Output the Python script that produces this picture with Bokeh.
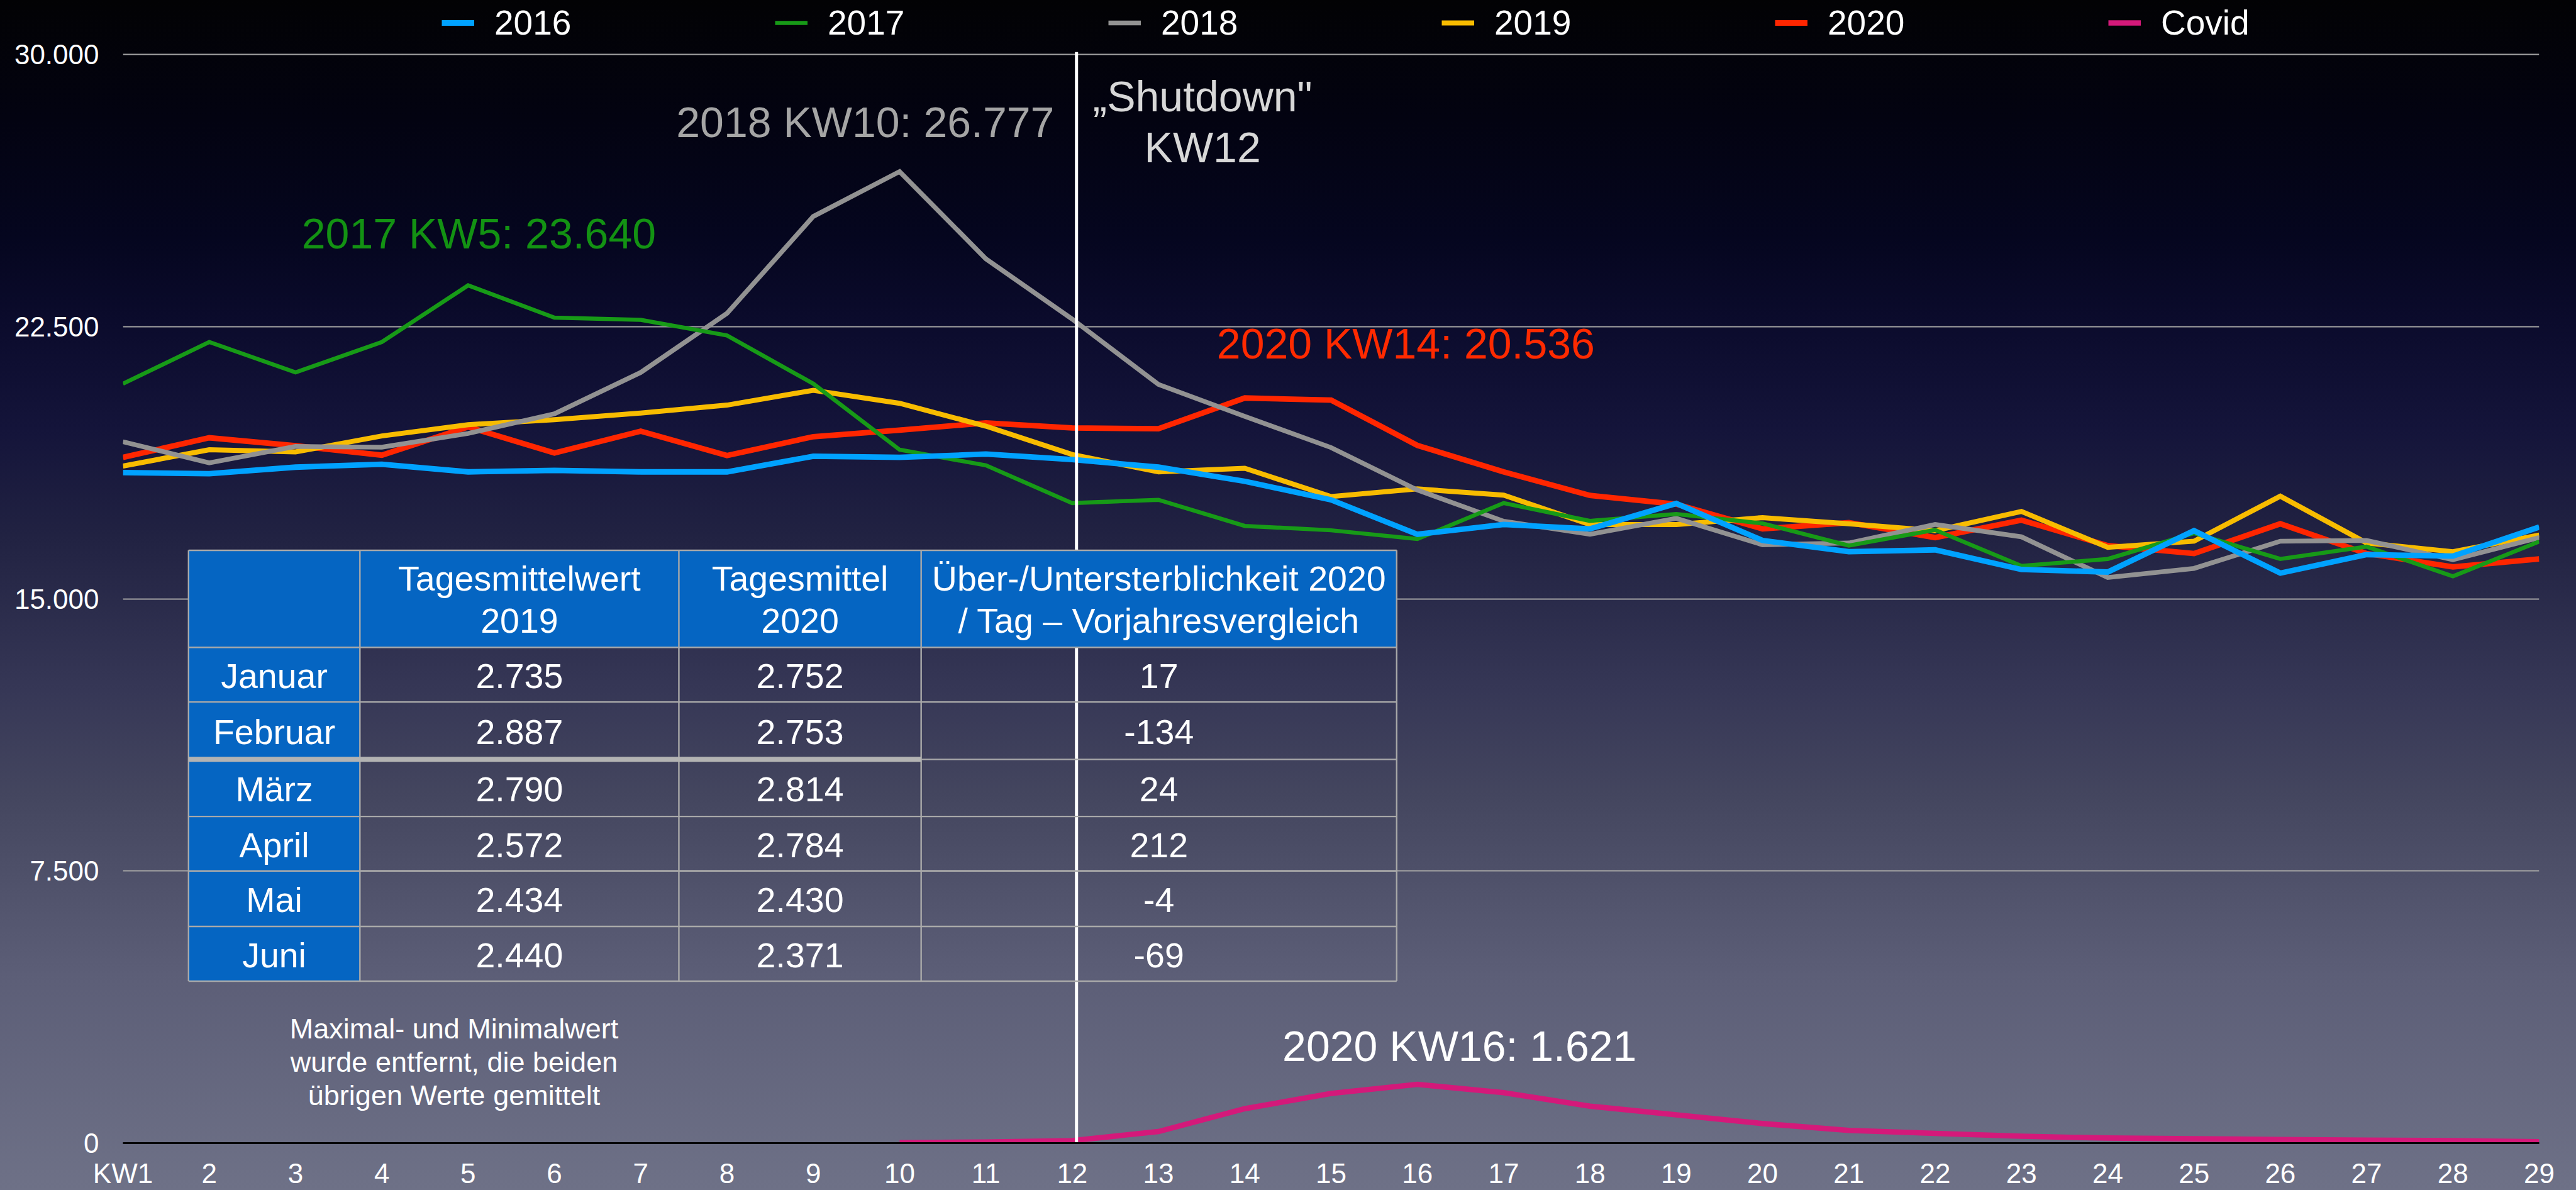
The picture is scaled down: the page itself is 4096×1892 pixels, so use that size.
from bokeh.plotting import figure
from bokeh.models import Range1d, Legend, LegendItem, GlobalInlineStyleSheet
from bokeh.core.properties import value
from bokeh.embed import file_html
from bokeh.resources import INLINE

# ---------------- data ----------------
weeks = list(range(1, 30))
deaths_2016 = [18480, 18450, 18630, 18710, 18500, 18540, 18500, 18500, 18930, 18900,
               18990, 18840, 18630, 18240, 17730, 16780, 17050, 16930, 17630, 16610,
               16300, 16350, 15810, 15740, 16880, 15710, 16220, 16180, 16980]
deaths_2017 = [20930, 22080, 21240, 22080, 23640, 22750, 22690, 22260, 20930, 19110,
               18680, 17640, 17730, 17010, 16890, 16650, 17640, 17150, 17340, 17080,
               16470, 16900, 15910, 16100, 16810, 16100, 16440, 15620, 16580]
deaths_2018 = [19330, 18750, 19200, 19180, 19560, 20100, 21240, 22870, 25540, 26777,
               24370, 22710, 20910, 20030, 19170, 18000, 17140, 16780, 17220, 16490,
               16540, 17050, 16710, 15590, 15840, 16590, 16610, 16080, 16690]
deaths_2019 = [18660, 19110, 19050, 19490, 19800, 19940, 20120, 20340, 20750, 20390,
               19760, 18980, 18500, 18600, 17820, 18030, 17860, 17050, 17050, 17240,
               17070, 16880, 17410, 16420, 16590, 17830, 16540, 16300, 16760]
deaths_2020 = [18900, 19440, 19220, 18960, 19740, 19020, 19620, 18950, 19470, 19650,
               19850, 19710, 19690, 20536, 20480, 19230, 18500, 17850, 17610, 16930,
               17100, 16690, 17170, 16470, 16250, 17070, 16250, 15880, 16100]
covid_weeks = list(range(10, 30))
covid_2020 = [10, 30, 70, 320, 950, 1370, 1621, 1390, 1020, 780,
              540, 350, 270, 190, 140, 120, 100, 80, 70, 40]

y_ticks = [0, 7500, 15000, 22500, 30000]
y_tick_labels = ["0", "7.500", "15.000", "22.500", "30.000"]
x_tick_first_label = "KW1"
shutdown_week = 12.05

months = ["Januar", "Februar", "März", "April", "Mai", "Juni"]
mean_2019 = [2735, 2887, 2790, 2572, 2434, 2440]
mean_2020 = [2752, 2753, 2814, 2784, 2430, 2371]
diff_2020 = [17, -134, 24, 212, -4, -69]
header_lines = [("Tagesmittelwert", "2019"), ("Tagesmittel", "2020"),
                ("Über-/Untersterblichkeit 2020", "/ Tag – Vorjahresvergleich")]

def de(n):
    return f"{n:,}".replace(",", ".")

# ---------------- layout helpers (reference pixels -> data) ----------------
S = 0.841
W, H = 4096, 1892
REF_X0, REF_X1 = 232.0, 4800.0
REF_Y0, REF_Y30 = 2162.0, 102.7

def rx(px):
    return 1 + (px - REF_X0) * 28.0 / (REF_X1 - REF_X0)

def ry(py):
    return (REF_Y0 - py) * 30000.0 / (REF_Y0 - REF_Y30)

FONT = "Liberation Sans"

frame_left = round(REF_X0 * S)
frame_right = round(REF_X1 * S)
frame_bottom = round(REF_Y0 * S)

# the frame reaches the top edge so that the legend row is not clipped
p = figure(width=W, height=H, output_backend="svg", toolbar_location=None,
           x_range=Range1d(1, 29), y_range=Range1d(0, ry(0)))
p.min_border_left = frame_left
p.min_border_top = 0
p.min_border_right = W - frame_right
p.min_border_bottom = H - frame_bottom
p.background_fill_alpha = 0
p.border_fill_alpha = 0
p.outline_line_color = None
p.stylesheets = [GlobalInlineStyleSheet(css=(
    "html, body { background: linear-gradient(to bottom, #020204 0%, #030311 10%, "
    "#05061f 20%, #0b0b2c 27%, #14143a 36%, #212242 45%, #363756 58%, #44465f 67%, "
    "#5c5e77 82%, #6e7187 100%) fixed; }"))]

# axes
p.xaxis.ticker = weeks
p.xaxis.major_label_overrides = {1: x_tick_first_label}
p.xaxis.axis_line_color = "black"
p.xaxis.axis_line_width = 3
p.xaxis.major_tick_out = 0
p.xaxis.major_tick_in = 0
p.xaxis.minor_tick_out = 0
p.xaxis.minor_tick_in = 0
p.xaxis.major_label_standoff = 23
p.xaxis.major_label_text_font_size = "44px"
p.xaxis.major_label_text_color = "white"
p.xaxis.major_label_text_font = FONT

p.yaxis.ticker = y_ticks
p.yaxis.major_label_overrides = dict(zip(y_ticks, y_tick_labels))
p.yaxis.axis_line_color = None
p.yaxis.major_tick_out = 0
p.yaxis.major_tick_in = 0
p.yaxis.minor_tick_out = 0
p.yaxis.minor_tick_in = 0
p.yaxis.major_label_standoff = 38
p.yaxis.major_label_text_font_size = "44px"
p.yaxis.major_label_text_color = "white"
p.yaxis.major_label_text_font = FONT

p.xgrid.visible = False
p.ygrid.ticker = y_ticks
p.ygrid.grid_line_color = "#a3a3a3"
p.ygrid.grid_line_width = 2

# series
r_cov = p.line(covid_weeks, covid_2020, line_color="#d4197a", line_width=8.6, line_join="miter")
r20 = p.line(weeks, deaths_2020, line_color="#ff2600", line_width=8.8, line_join="miter")
r19 = p.line(weeks, deaths_2019, line_color="#f8bc00", line_width=8, line_join="miter")
r18 = p.line(weeks, deaths_2018, line_color="#929292", line_width=7.5, line_join="miter")
r17 = p.line(weeks, deaths_2017, line_color="#179a17", line_width=6.5, line_join="miter")
r16 = p.line(weeks, deaths_2016, line_color="#00a2ff", line_width=8.8, line_join="miter")

# shutdown line
p.segment(x0=[shutdown_week], y0=[0], x1=[shutdown_week], y1=[ry(98)],
          line_color="white", line_width=5)

# ---------------- table ----------------
cols_px = [356, 680, 1283, 1741, 2640]
rows_px = [1040.6, 1224, 1327.5, 1436, 1544, 1647, 1752, 1855.6]
TBLUE = "#0565c2"
TGRAY = "#a9a9a9"

p.quad(left=[rx(cols_px[0]), rx(cols_px[0])], right=[rx(cols_px[-1]), rx(cols_px[1])],
       top=[ry(rows_px[0]), ry(rows_px[1])], bottom=[ry(rows_px[1]), ry(rows_px[-1])],
       fill_color=TBLUE, line_color=None)
p.segment(x0=[rx(cols_px[0])] * len(rows_px), x1=[rx(cols_px[-1])] * len(rows_px),
          y0=[ry(r) for r in rows_px], y1=[ry(r) for r in rows_px],
          line_color=TGRAY, line_width=2.4)
p.segment(x0=[rx(c) for c in cols_px], x1=[rx(c) for c in cols_px],
          y0=[ry(rows_px[0])] * len(cols_px), y1=[ry(rows_px[-1])] * len(cols_px),
          line_color=TGRAY, line_width=2.4)
p.segment(x0=[rx(cols_px[0])], x1=[rx(cols_px[3])], y0=[ry(rows_px[3])], y1=[ry(rows_px[3])],
          line_color="#b3b3b3", line_width=8)

col_centers = [(cols_px[i] + cols_px[i + 1]) / 2 for i in range(4)]
tfs = value("55.5px")
hx, hy, ht = [], [], []
for i, (l1, l2) in enumerate(header_lines):
    hx += [rx(col_centers[i + 1])] * 2
    hy += [ry(1094), ry(1174)]
    ht += [l1, l2]
p.text(x=hx, y=hy, text=ht, text_color="white", text_font=value(FONT), text_font_size=tfs,
       text_align="center", text_baseline="middle")

cx, cy, ct = [], [], []
for j in range(len(months)):
    yc = ry((rows_px[j + 1] + rows_px[j + 2]) / 2 + 3)
    row = [months[j], de(mean_2019[j]), de(mean_2020[j]), str(diff_2020[j])]
    for i in range(4):
        cx.append(rx(col_centers[i]))
        cy.append(yc)
        ct.append(row[i])
p.text(x=cx, y=cy, text=ct, text_color="white", text_font=value(FONT), text_font_size=tfs,
       text_align="center", text_baseline="middle")

# ---------------- annotations ----------------
afs = value("68px")
p.text(x=[rx(1278)], y=[ry(230)], text=["2018 KW10: 26.777"], text_color="#a5a5a5",
       text_font=value(FONT), text_font_size=afs, text_baseline="middle")
p.text(x=[rx(570)], y=[ry(441)], text=["2017 KW5: 23.640"], text_color="#139213",
       text_font=value(FONT), text_font_size=afs, text_baseline="middle")
p.text(x=[rx(2273), rx(2273)], y=[ry(181), ry(278)], text=["\u201eShutdown\"", "KW12"],
       text_color="#d8d8d8", text_font=value(FONT), text_font_size=afs,
       text_align="center", text_baseline="middle")
p.text(x=[rx(2300)], y=[ry(649)], text=["2020 KW14: 20.536"], text_color="#ff2a00",
       text_font=value(FONT), text_font_size=afs, text_baseline="middle")
p.text(x=[rx(2424)], y=[ry(1978)], text=["2020 KW16: 1.621"], text_color="white",
       text_font=value(FONT), text_font_size=afs, text_baseline="middle")
p.text(x=[rx(858)] * 3, y=[ry(1945), ry(2009), ry(2072)],
       text=["Maximal- und Minimalwert", "wurde entfernt, die beiden", "übrigen Werte gemittelt"],
       text_color="white", text_font=value(FONT), text_font_size=value("45px"),
       text_align="center", text_baseline="middle")

# ---------------- legend (top row, inside the extended frame) ----------------
leg_h = 64
leg_top = round(44 * S) - leg_h / 2
legend = Legend(items=[LegendItem(label="2016", renderers=[r16]),
                       LegendItem(label="2017", renderers=[r17]),
                       LegendItem(label="2018", renderers=[r18]),
                       LegendItem(label="2019", renderers=[r19]),
                       LegendItem(label="2020", renderers=[r20]),
                       LegendItem(label="Covid", renderers=[r_cov])],
                orientation="horizontal",
                location=(round(835 * S) - frame_left, frame_bottom - leg_h - leg_top),
                padding=0, spacing=0, margin=0, glyph_width=52, glyph_height=leg_h,
                label_standoff=32, label_width=446, label_height=leg_h,
                label_text_font_size="55px", label_text_color="white", label_text_font=FONT,
                background_fill_alpha=0, border_line_alpha=0)
p.add_layout(legend)

open("out.html", "w").write(file_html(p, INLINE))
